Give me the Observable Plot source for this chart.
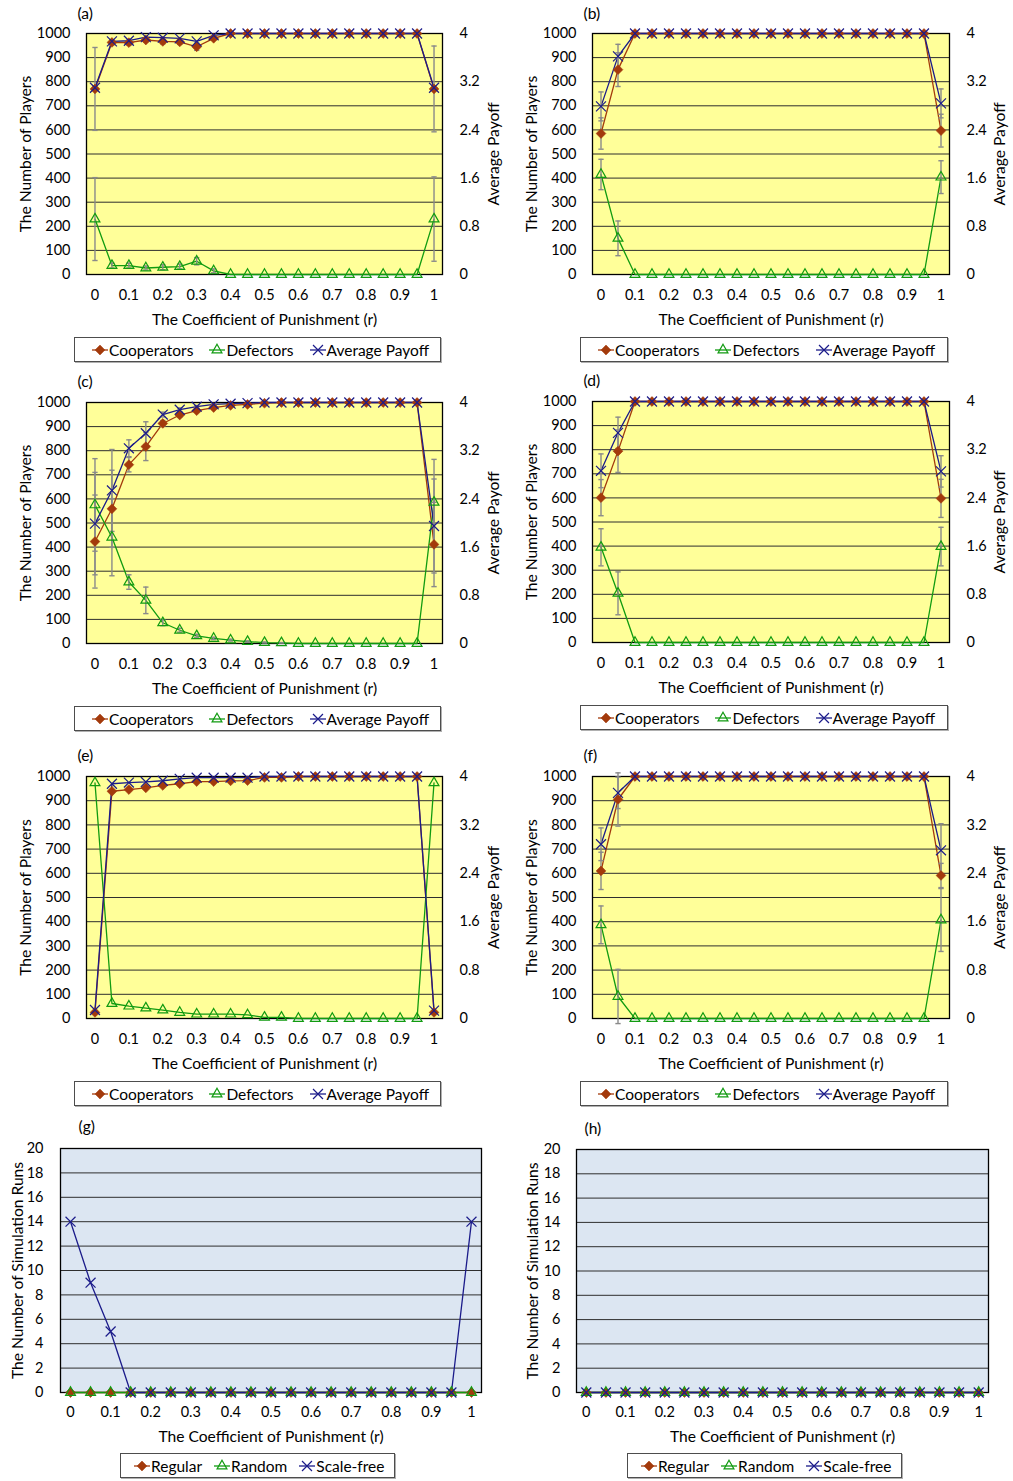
<!DOCTYPE html>
<html>
<head>
<meta charset="utf-8">
<script src="https://cdn.jsdelivr.net/npm/d3@7"></script>
<script src="https://cdn.jsdelivr.net/npm/@observablehq/plot@0.6"></script>
<style>
  html, body { margin: 0; padding: 0; background: #fff; }
  #page { position: relative; width: 1013px; height: 1481px; overflow: hidden; font-family: Lato, "Open Sans", sans-serif; }
  .cell { position: absolute; }
  .cell svg { overflow: visible; }
  .legend { position: absolute; box-sizing: border-box; border: 1px solid #4d4d4d; box-shadow: 1px 1px 0 #b0b0b0; background: #fff; display: flex; align-items: center; font-size: 15.5px; color: #000; white-space: nowrap; }
  .legend .item { display: flex; align-items: center; }
  .legend svg { display: block; }
</style>
</head>
<body>
<div id="page"></div>
<script>
// ---------- categories and tick labels ----------
const rValues = [0, 0.05, 0.1, 0.15, 0.2, 0.25, 0.3, 0.35, 0.4, 0.45, 0.5, 0.55, 0.6, 0.65, 0.7, 0.75, 0.8, 0.85, 0.9, 0.95, 1];
const xDomain = [-0.025, 1.025];
const xTicks = [0, 0.1, 0.2, 0.3, 0.4, 0.5, 0.6, 0.7, 0.8, 0.9, 1];
const xTickLabels = ["0", "0.1", "0.2", "0.3", "0.4", "0.5", "0.6", "0.7", "0.8", "0.9", "1"];
const playerTicks = [0, 100, 200, 300, 400, 500, 600, 700, 800, 900, 1000];
const payoffTicks = [0, 0.8, 1.6, 2.4, 3.2, 4];
const payoffMax = 4;
const playersMax = 1000;
const runTicks = [0, 2, 4, 6, 8, 10, 12, 14, 16, 18, 20];
const runsMax = 20;
const panelLabels = ["(a)", "(b)", "(c)", "(d)", "(e)", "(f)", "(g)", "(h)"];
const playerSeriesNames = ["Cooperators", "Defectors", "Average Payoff"];
const runSeriesNames = ["Regular", "Random", "Scale-free"];
const xTitle = "The Coefficient of Punishment (r)";
const yTitlePlayers = "The Number of Players";
const yTitlePayoff = "Average Payoff";
const yTitleRuns = "The Number of Simulation Runs";

// ---------- panel (a) ----------
const aCoop    = [770, 963, 962, 973, 967, 965, 945, 980, 1000, 1000, 1000, 1000, 1000, 1000, 1000, 1000, 1000, 1000, 1000, 1000, 770];
const aCoopErr = [172, 10, 10, 8, 10, 10, 15, 8, 0, 0, 0, 0, 0, 0, 0, 0, 0, 0, 0, 0, 178];
const aDef     = [230, 37, 37, 27, 30, 33, 55, 15, 0, 0, 0, 0, 0, 0, 0, 0, 0, 0, 0, 0, 230];
const aDefErr  = [172, 10, 10, 8, 10, 10, 15, 8, 0, 0, 0, 0, 0, 0, 0, 0, 0, 0, 0, 0, 175];
const aPay     = [3.10, 3.87, 3.88, 3.94, 3.93, 3.92, 3.87, 3.97, 4, 4, 4, 4, 4, 4, 4, 4, 4, 4, 4, 4, 3.10];
const aPayErr  = [0, 0, 0, 0, 0, 0, 0, 0, 0, 0, 0, 0, 0, 0, 0, 0, 0, 0, 0, 0, 0];

// ---------- panel (b) ----------
const bCoop    = [585, 850, 1000, 1000, 1000, 1000, 1000, 1000, 1000, 1000, 1000, 1000, 1000, 1000, 1000, 1000, 1000, 1000, 1000, 1000, 597];
const bCoopErr = [65, 70, 0, 0, 0, 0, 0, 0, 0, 0, 0, 0, 0, 0, 0, 0, 0, 0, 0, 0, 68];
const bDef     = [415, 150, 0, 0, 0, 0, 0, 0, 0, 0, 0, 0, 0, 0, 0, 0, 0, 0, 0, 0, 404];
const bDefErr  = [63, 72, 0, 0, 0, 0, 0, 0, 0, 0, 0, 0, 0, 0, 0, 0, 0, 0, 0, 0, 68];
const bPay     = [2.79, 3.62, 4, 4, 4, 4, 4, 4, 4, 4, 4, 4, 4, 4, 4, 4, 4, 4, 4, 4, 2.84];
const bPayErr  = [0.24, 0.2, 0, 0, 0, 0, 0, 0, 0, 0, 0, 0, 0, 0, 0, 0, 0, 0, 0, 0, 0.24];

// ---------- panel (c) ----------
const cCoop    = [423, 559, 742, 817, 913, 948, 966, 979, 988, 992, 997, 1000, 1000, 1000, 1000, 1000, 1000, 1000, 1000, 1000, 411];
const cCoopErr = [193, 160, 30, 58, 12, 8, 6, 5, 4, 3, 2, 0, 0, 0, 0, 0, 0, 0, 0, 0, 175];
const cDef     = [575, 441, 255, 179, 86, 55, 32, 21, 14, 8, 4, 3, 0, 0, 0, 0, 0, 0, 0, 0, 586];
const cDefErr  = [192, 160, 30, 55, 12, 8, 6, 5, 4, 3, 2, 1, 0, 0, 0, 0, 0, 0, 0, 0, 178];
const cPay     = [1.99, 2.54, 3.24, 3.49, 3.80, 3.88, 3.93, 3.97, 3.98, 3.99, 4, 4, 4, 4, 4, 4, 4, 4, 4, 4, 1.95];
const cPayErr  = [0.85, 0.68, 0.14, 0.19, 0.04, 0.03, 0.02, 0.01, 0, 0, 0, 0, 0, 0, 0, 0, 0, 0, 0, 0, 0.78];

// ---------- panel (d) ----------
const dCoop    = [601, 794, 1000, 1000, 1000, 1000, 1000, 1000, 1000, 1000, 1000, 1000, 1000, 1000, 1000, 1000, 1000, 1000, 1000, 1000, 598];
const dCoopErr = [75, 88, 0, 0, 0, 0, 0, 0, 0, 0, 0, 0, 0, 0, 0, 0, 0, 0, 0, 0, 79];
const dDef     = [395, 204, 0, 0, 0, 0, 0, 0, 0, 0, 0, 0, 0, 0, 0, 0, 0, 0, 0, 0, 398];
const dDefErr  = [77, 89, 0, 0, 0, 0, 0, 0, 0, 0, 0, 0, 0, 0, 0, 0, 0, 0, 0, 0, 80];
const dPay     = [2.85, 3.48, 4, 4, 4, 4, 4, 4, 4, 4, 4, 4, 4, 4, 4, 4, 4, 4, 4, 4, 2.84];
const dPayErr  = [0.28, 0.26, 0, 0, 0, 0, 0, 0, 0, 0, 0, 0, 0, 0, 0, 0, 0, 0, 0, 0, 0.26];

// ---------- panel (e) ----------
const eCoop    = [25, 939, 946, 953, 963, 970, 979, 979, 982, 983, 996, 996, 1000, 1000, 1000, 1000, 1000, 1000, 1000, 1000, 25];
const eCoopErr = [0, 0, 0, 0, 0, 0, 0, 0, 0, 0, 0, 0, 0, 0, 0, 0, 0, 0, 0, 0, 0];
const eDef     = [974, 62, 51, 43, 35, 25, 18, 18, 18, 15, 5, 5, 0, 0, 0, 0, 0, 0, 0, 0, 974];
const eDefErr  = [0, 0, 0, 0, 0, 0, 0, 0, 0, 0, 0, 0, 0, 0, 0, 0, 0, 0, 0, 0, 0];
const ePay     = [0.14, 3.88, 3.90, 3.91, 3.93, 3.96, 3.98, 3.98, 3.98, 3.98, 4, 4, 4, 4, 4, 4, 4, 4, 4, 4, 0.13];
const ePayErr  = [0, 0, 0, 0, 0, 0, 0, 0, 0, 0, 0, 0, 0, 0, 0, 0, 0, 0, 0, 0, 0];

// ---------- panel (f) ----------
const fCoop    = [610, 905, 1000, 1000, 1000, 1000, 1000, 1000, 1000, 1000, 1000, 1000, 1000, 1000, 1000, 1000, 1000, 1000, 1000, 1000, 591];
const fCoopErr = [77, 110, 0, 0, 0, 0, 0, 0, 0, 0, 0, 0, 0, 0, 0, 0, 0, 0, 0, 0, 50];
const fDef     = [387, 91, 0, 0, 0, 0, 0, 0, 0, 0, 0, 0, 0, 0, 0, 0, 0, 0, 0, 0, 407];
const fDefErr  = [78, 112, 0, 0, 0, 0, 0, 0, 0, 0, 0, 0, 0, 0, 0, 0, 0, 0, 0, 0, 130];
const fPay     = [2.88, 3.73, 4, 4, 4, 4, 4, 4, 4, 4, 4, 4, 4, 4, 4, 4, 4, 4, 4, 4, 2.78];
const fPayErr  = [0.27, 0.26, 0, 0, 0, 0, 0, 0, 0, 0, 0, 0, 0, 0, 0, 0, 0, 0, 0, 0, 0.44];

// ---------- panel (g) ----------
const gRegular   = [0, 0, 0, 0, 0, 0, 0, 0, 0, 0, 0, 0, 0, 0, 0, 0, 0, 0, 0, 0, 0];
const gRandom    = [0, 0, 0, 0, 0, 0, 0, 0, 0, 0, 0, 0, 0, 0, 0, 0, 0, 0, 0, 0, 0];
const gScaleFree = [14, 9, 5, 0, 0, 0, 0, 0, 0, 0, 0, 0, 0, 0, 0, 0, 0, 0, 0, 0, 14];

// ---------- panel (h) ----------
const hRegular   = [0, 0, 0, 0, 0, 0, 0, 0, 0, 0, 0, 0, 0, 0, 0, 0, 0, 0, 0, 0, 0];
const hRandom    = [0, 0, 0, 0, 0, 0, 0, 0, 0, 0, 0, 0, 0, 0, 0, 0, 0, 0, 0, 0, 0];
const hScaleFree = [0, 0, 0, 0, 0, 0, 0, 0, 0, 0, 0, 0, 0, 0, 0, 0, 0, 0, 0, 0, 0];

// ---------- styles ----------
const RED = "#a33a0c";
const GREEN = "#119b11";
const NAVY = "#1b1b8a";
const ERR = "#8a8a8a";
const GRID = "#2e2e2e";
const YELLOW = "#ffff99";
const BLUE = "#dce6f2";
const FONT = "Lato, 'Open Sans', sans-serif";
const TICK_SIZE = 14.5;
const TITLE_SIZE = 15.6;
const PAYOFF_TO_PLAYERS = playersMax / payoffMax;

const capSymbol = {
  draw(context, size) {
    const w = Math.sqrt(size) / 2;
    context.moveTo(-w, 0);
    context.lineTo(w, 0);
  }
};

const markerStyles = {
  diamond: {symbol: "diamond2", filled: true, r: 4.4},
  triangle: {symbol: "triangle2", filled: false, r: 4.7},
  times: {symbol: "times", filled: false, r: 4.6}
};

function seriesRows(values, errs, k) {
  return rValues.map((r, i) => ({
    r,
    v: values[i] * k,
    lo: (values[i] - (errs ? errs[i] : 0)) * k,
    hi: (values[i] + (errs ? errs[i] : 0)) * k,
    e: errs ? errs[i] : 0
  }));
}

function drawPanel(p) {
  const [x0, y0, w, h] = p.cell;
  const [L, R, T, B] = p.frame;
  const marks = [];
  marks.push(Plot.frame({fill: p.bg, stroke: null}));
  marks.push(Plot.ruleY(p.yTicks, {stroke: GRID, strokeWidth: 1}));
  marks.push(Plot.frame({stroke: "#000", strokeWidth: 1.3}));
  const rowsList = p.series.map(s => seriesRows(s.values, s.errs, s.k));
  // lines
  p.series.forEach((s, i) => {
    marks.push(Plot.line(rowsList[i], {x: "r", y: "v", stroke: s.color, strokeWidth: 1.3}));
  });
  // error bars
  p.series.forEach((s, i) => {
    const rows = rowsList[i].filter(d => d.e > 0);
    if (!rows.length) return;
    marks.push(Plot.ruleX(rows, {x: "r", y1: "lo", y2: "hi", stroke: ERR, strokeWidth: 1.4}));
    marks.push(Plot.dot(rows, {x: "r", y: "lo", symbol: capSymbol, r: 3, stroke: ERR, strokeWidth: 1.4, fill: "none"}));
    marks.push(Plot.dot(rows, {x: "r", y: "hi", symbol: capSymbol, r: 3, stroke: ERR, strokeWidth: 1.4, fill: "none"}));
  });
  // markers
  p.series.forEach((s, i) => {
    const m = markerStyles[s.marker];
    marks.push(Plot.dot(rowsList[i], {
      x: "r", y: "v", symbol: m.symbol, r: m.r,
      fill: m.filled ? s.color : "none",
      stroke: s.color, strokeWidth: m.filled ? 0.6 : 1.2
    }));
  });
  // axes
  marks.push(Plot.axisY(p.yTicks, {anchor: "left", tickSize: 0, tickPadding: p.yPad, label: null,
    tickFormat: d => String(d), fontSize: TICK_SIZE}));
  if (p.right) {
    marks.push(Plot.axisY(payoffTicks, {
      anchor: "right", tickSize: 0, tickPadding: 17, label: null,
      y: d => d * PAYOFF_TO_PLAYERS, tickFormat: d => String(d), fontSize: TICK_SIZE
    }));
    marks.push(Plot.text([yTitlePayoff], {frameAnchor: "right", dx: p.rightTitleDx, rotate: -90, textAnchor: "middle", lineAnchor: "middle", fontSize: TITLE_SIZE}));
  }
  marks.push(Plot.axisX(xTicks, {anchor: "bottom", tickSize: 0, tickPadding: p.xPad, label: null,
    tickFormat: d => xTickLabels[xTicks.indexOf(d)], fontSize: TICK_SIZE}));
  marks.push(Plot.text([p.yTitle], {frameAnchor: "left", dx: p.yTitleDx, rotate: -90, textAnchor: "middle", lineAnchor: "middle", fontSize: TITLE_SIZE}));
  marks.push(Plot.text([xTitle], {frameAnchor: "bottom", dy: p.xTitleDy, textAnchor: "middle", lineAnchor: "middle", ariaLabel: "x title", fontSize: TITLE_SIZE}));
  marks.push(Plot.text([p.label], {frameAnchor: "top-left", dx: p.labelPos[0] - L, dy: p.labelPos[1] - T, textAnchor: "start", lineAnchor: "middle", fontSize: TITLE_SIZE}));

  const svg = Plot.plot({
    width: w, height: h,
    marginLeft: L - x0, marginRight: x0 + w - R, marginTop: T - y0, marginBottom: y0 + h - B,
    x: {domain: xDomain},
    y: {domain: [0, p.yMax]},
    style: {fontFamily: FONT, fontSize: TICK_SIZE + "px", color: "#000", background: "transparent", overflow: "visible"},
    marks
  });

  // italic r in the x title
  const t = svg.querySelector('g[aria-label="x title"] text');
  if (t) {
    const full = t.textContent;
    const m = full.match(/^(.*\()r(\).*)$/);
    if (m) {
      t.textContent = "";
      const ns = "http://www.w3.org/2000/svg";
      const a = document.createElementNS(ns, "tspan"); a.textContent = m[1];
      const b = document.createElementNS(ns, "tspan"); b.textContent = "r"; b.setAttribute("font-style", "italic");
      const c = document.createElementNS(ns, "tspan"); c.textContent = m[2];
      t.append(a, b, c);
    }
  }

  const cell = document.createElement("div");
  cell.className = "cell";
  cell.style.left = x0 + "px";
  cell.style.top = y0 + "px";
  cell.appendChild(svg);
  document.getElementById("page").appendChild(cell);

  // legend
  const [lx1, ly1, lx2, ly2] = p.legendBox;
  const lg = document.createElement("div");
  lg.className = "legend";
  lg.style.left = lx1 + "px"; lg.style.top = ly1 + "px";
  lg.style.width = (lx2 - lx1) + "px"; lg.style.height = (ly2 - ly1) + "px";
  lg.style.paddingLeft = p.legendPad + "px";
  p.series.forEach((s, i) => {
    const item = document.createElement("div");
    item.className = "item";
    if (i > 0) item.style.marginLeft = p.legendGap + "px";
    const m = markerStyles[s.marker];
    const sym = {diamond2: d3.symbolDiamond2, triangle2: d3.symbolTriangle2, times: d3.symbolTimes}[m.symbol];
    const path = d3.symbol(sym, Math.PI * m.r * m.r)();
    const mw = p.legendMarkerW;
    item.innerHTML =
      `<svg width="${mw}" height="14" viewBox="0 0 ${mw} 14">` +
      `<line x1="0" x2="${mw}" y1="7" y2="7" stroke="${s.color}" stroke-width="1.3"/>` +
      `<path transform="translate(${mw / 2},7)" d="${path}" fill="${m.filled ? s.color : "none"}" stroke="${s.color}" stroke-width="${m.filled ? 0.6 : 1.2}"/>` +
      `</svg><span style="margin-left:1px">${s.name}</span>`;
    lg.appendChild(item);
  });
  document.getElementById("page").appendChild(lg);
}

function playerSeries(coop, coopErr, def, defErr, pay, payErr) {
  return [
    {name: playerSeriesNames[0], values: coop, errs: coopErr, k: 1, color: RED, marker: "diamond"},
    {name: playerSeriesNames[1], values: def, errs: defErr, k: 1, color: GREEN, marker: "triangle"},
    {name: playerSeriesNames[2], values: pay, errs: payErr, k: PAYOFF_TO_PLAYERS, color: NAVY, marker: "times"}
  ];
}
function runSeries(reg, rnd, sf) {
  return [
    {name: runSeriesNames[0], values: reg, errs: null, k: 1, color: RED, marker: "diamond"},
    {name: runSeriesNames[1], values: rnd, errs: null, k: 1, color: GREEN, marker: "triangle"},
    {name: runSeriesNames[2], values: sf, errs: null, k: 1, color: NAVY, marker: "times"}
  ];
}

const playerPanelBase = {
  bg: YELLOW, yTicks: playerTicks, yMax: playersMax, right: true, yTitle: yTitlePlayers,
  yPad: 16, xPad: 15, xTitleDy: 45, yTitleDx: -61, rightTitleDx: 51,
  legendPad: 17, legendGap: 16, legendMarkerW: 16
};
const runPanelBase = {
  bg: BLUE, yTicks: runTicks, yMax: runsMax, right: false, yTitle: yTitleRuns,
  yPad: 17, xPad: 14, xTitleDy: 44,
  legendPad: 13, legendGap: 12, legendMarkerW: 16
};

const panels = [
  {...playerPanelBase, label: panelLabels[0], cell: [0, 0, 505, 335], frame: [86, 442, 33, 274], labelPos: [77, 13], legendBox: [74, 337, 441, 362],
    series: playerSeries(aCoop, aCoopErr, aDef, aDefErr, aPay, aPayErr)},
  {...playerPanelBase, label: panelLabels[1], cell: [505, 0, 508, 335], frame: [592, 949, 33, 274], labelPos: [583, 13], legendBox: [580, 337, 948, 362], rightTitleDx: 50,
    series: playerSeries(bCoop, bCoopErr, bDef, bDefErr, bPay, bPayErr)},
  {...playerPanelBase, label: panelLabels[2], cell: [0, 370, 505, 335], frame: [86, 442, 402, 643], labelPos: [77, 381], legendBox: [74, 706, 441, 731],
    series: playerSeries(cCoop, cCoopErr, cDef, cDefErr, cPay, cPayErr)},
  {...playerPanelBase, label: panelLabels[3], cell: [505, 370, 508, 335], frame: [592, 949, 401, 642], labelPos: [583, 380], legendBox: [580, 705, 948, 730], rightTitleDx: 50,
    series: playerSeries(dCoop, dCoopErr, dDef, dDefErr, dPay, dPayErr)},
  {...playerPanelBase, label: panelLabels[4], cell: [0, 740, 505, 335], frame: [86, 442, 776, 1018], labelPos: [77, 755], legendBox: [74, 1081, 441, 1106],
    series: playerSeries(eCoop, eCoopErr, eDef, eDefErr, ePay, ePayErr)},
  {...playerPanelBase, label: panelLabels[5], cell: [505, 740, 508, 335], frame: [592, 949, 776, 1018], labelPos: [583, 755], legendBox: [580, 1081, 948, 1106], rightTitleDx: 50,
    series: playerSeries(fCoop, fCoopErr, fDef, fDefErr, fPay, fPayErr)},
  {...runPanelBase, label: panelLabels[6], cell: [0, 1110, 505, 340], frame: [60, 481, 1148, 1392], labelPos: [78, 1126], legendBox: [120, 1453, 395, 1478], yTitleDx: -43,
    series: runSeries(gRegular, gRandom, gScaleFree)},
  {...runPanelBase, label: panelLabels[7], cell: [505, 1110, 508, 340], frame: [576, 988, 1149, 1392], labelPos: [584, 1128], legendBox: [627, 1453, 902, 1478], yTitleDx: -44, yPad: 16,
    series: runSeries(hRegular, hRandom, hScaleFree)}
];

panels.forEach(drawPanel);
</script>
</body>
</html>
